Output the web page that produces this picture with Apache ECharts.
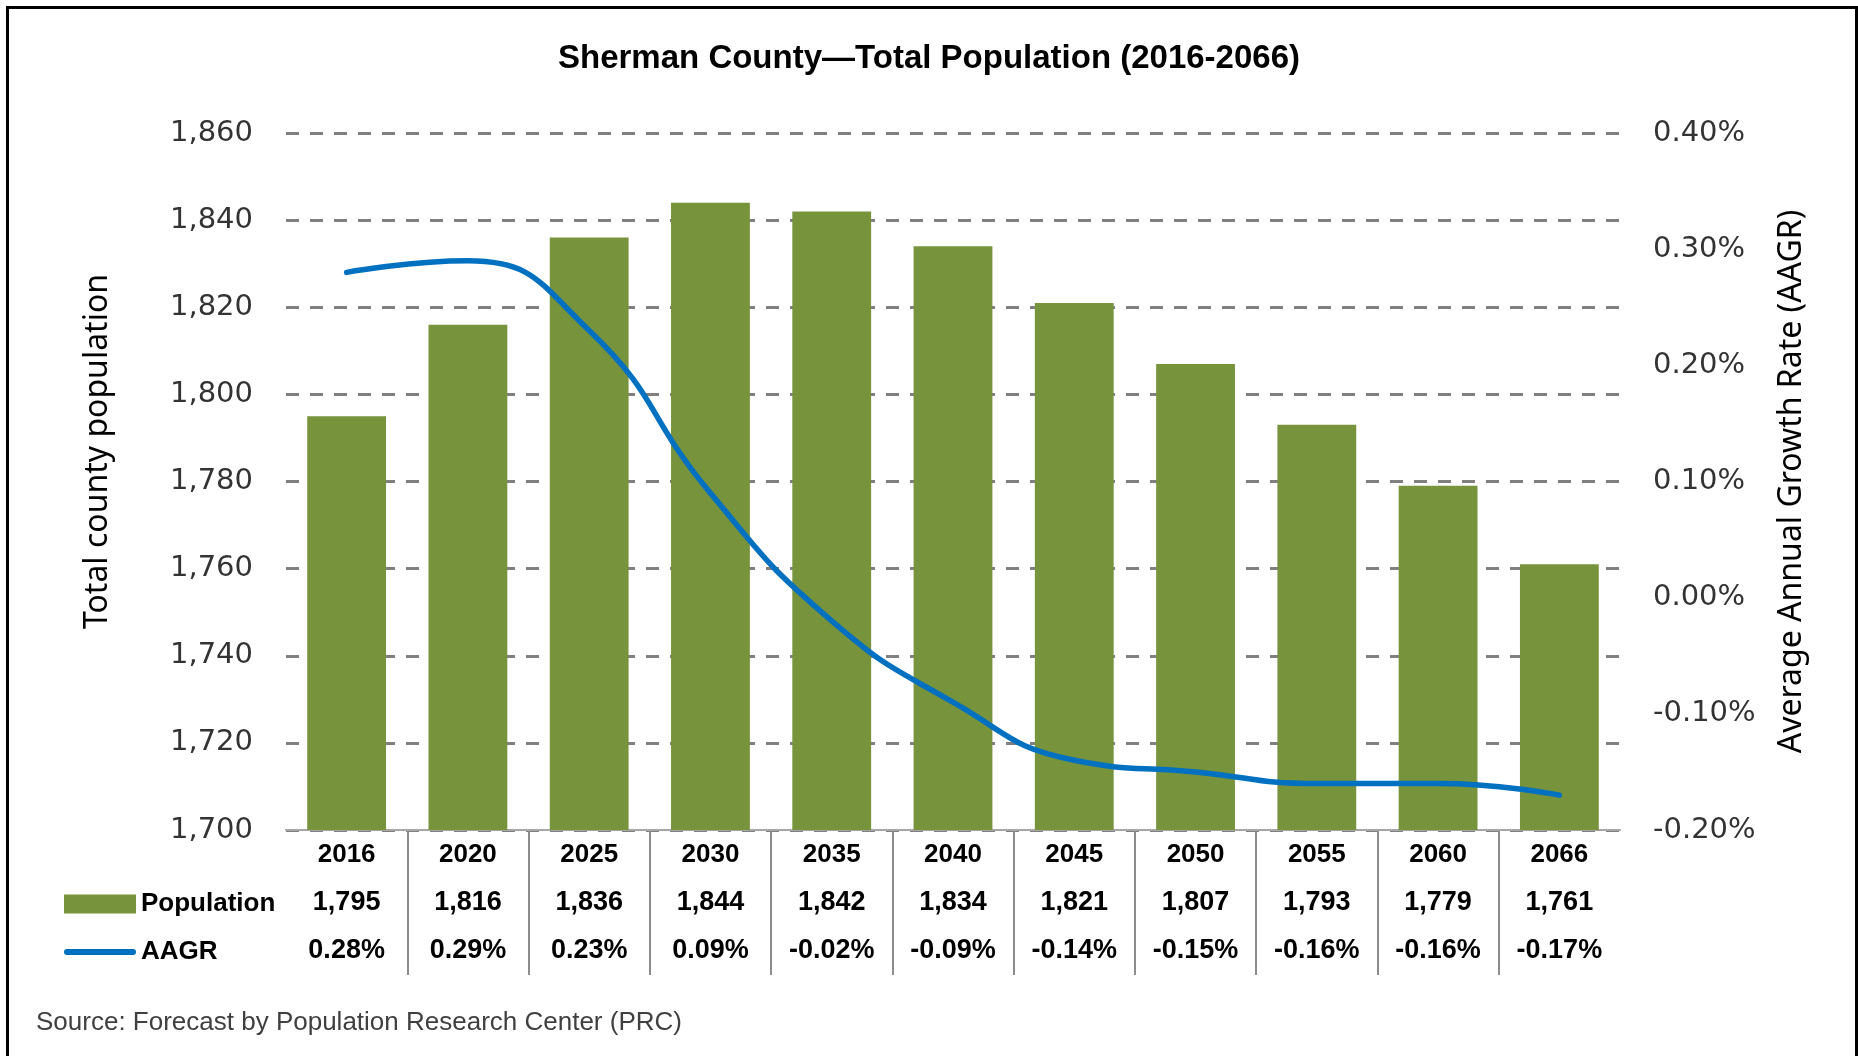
<!DOCTYPE html>
<html>
<head>
<meta charset="utf-8">
<title>Sherman County - Total Population</title>
<script src="https://cdn.jsdelivr.net/npm/echarts@6/dist/echarts.min.js"></script>
<style>
  html, body { margin: 0; padding: 0; background: #fff; }
  #chart { width: 1858px; height: 1056px; }
</style>
</head>
<body>
<div id="chart"></div>
<script>
// data
const years = ['2016', '2020', '2025', '2030', '2035', '2040', '2045', '2050', '2055', '2060', '2066']
const population = [1795, 1816, 1836, 1844, 1842, 1834, 1821, 1807, 1793, 1779, 1761]
const aagr = [0.28, 0.29, 0.23, 0.09, -0.02, -0.09, -0.14, -0.15, -0.16, -0.16, -0.17]
const popTicks = { min: 1700, max: 1860, step: 20 }
const rateTicks = { min: -0.2, max: 0.4, step: 0.1 }

const green = '#77933c'
const blue = '#0070c0'
const tableFont = 'Liberation Sans'
const axisFont = 'DejaVu Sans'

const fmtPop = v => v.toLocaleString('en-US')
const fmtRate = v => v.toFixed(2) + '%'

const chart = echarts.init(document.getElementById('chart'))

// bottom table rows are drawn as extra category axes stacked under the grid
function tableRow(offset, formatter) {
  return {
    type: 'category',
    gridIndex: 0,
    position: 'bottom',
    offset: offset,
    data: years,
    axisLine: { show: false },
    axisTick: { show: false },
    axisLabel: {
      interval: 0,
      margin: 11,
      formatter: formatter,
      fontFamily: tableFont,
      fontWeight: 'bold',
      fontSize: 27,
      color: '#000'
    }
  }
}

const option = {
  animation: false,
  title: [
    {
      text: 'Sherman County\u2014Total Population (2016-2066)',
      left: 'center',
      top: 37,
      textStyle: { fontFamily: tableFont, fontWeight: 'bold', fontSize: 33, color: '#000' }
    },
    {
      text: 'Source: Forecast by Population Research Center (PRC)',
      left: 31,
      top: 1005,
      textStyle: { fontFamily: tableFont, fontWeight: 'normal', fontSize: 26, color: '#404040' }
    }
  ],
  legend: {
    orient: 'vertical',
    left: 59,
    top: 886,
    itemWidth: 72,
    itemHeight: 19,
    itemGap: 22,
    textStyle: { fontFamily: tableFont, fontWeight: 'bold', fontSize: 26, color: '#000' },
    data: [
      { name: 'Population', icon: 'rect' },
      { name: 'AAGR', icon: 'path://M3,0 H69 A3,3 0 0 1 69,6 H3 A3,3 0 0 1 3,0 Z' }
    ]
  },
  graphic: [
    {
      type: 'rect',
      left: 5,
      top: 5,
      shape: { width: 1849, height: 1070 },
      style: { fill: 'none', stroke: '#000', lineWidth: 3 },
      silent: true
    }
  ],
  grid: [
    { left: 286, right: 238, top: 133, bottom: 226 },
    // only used for the vertical dividers of the data table
    { left: 286, right: 238, top: 830, height: 145 }
  ],
  xAxis: [
    {
      type: 'category',
      gridIndex: 0,
      data: years,
      axisLine: { onZero: false, lineStyle: { color: '#a6a6a6', width: 2 } },
      axisTick: { show: false },
      axisLabel: {
        interval: 0,
        margin: 12,
        fontFamily: tableFont,
        fontWeight: 'bold',
        fontSize: 26,
        color: '#000'
      }
    },
    tableRow(48, (v, i) => fmtPop(population[i])),
    tableRow(96, (v, i) => fmtRate(aagr[i])),
    {
      type: 'category',
      gridIndex: 1,
      data: years,
      axisLine: { show: false },
      axisTick: { show: false },
      axisLabel: { show: false },
      splitLine: {
        show: true,
        interval: 0,
        showMinLine: false,
        showMaxLine: false,
        lineStyle: { color: '#8c8c8c', width: 2 }
      }
    }
  ],
  yAxis: [
    {
      type: 'value',
      gridIndex: 0,
      min: popTicks.min,
      max: popTicks.max,
      interval: popTicks.step,
      name: 'Total county population',
      nameLocation: 'middle',
      nameGap: 172,
      nameTextStyle: { fontFamily: 'Noto Sans', fontSize: 32, color: '#000', padding: [0, 0, 0, 60] },
      axisLine: { show: false },
      axisTick: { show: false },
      axisLabel: {
        margin: 33,
        formatter: v => fmtPop(v),
        fontFamily: axisFont,
        fontSize: 29,
        color: '#333'
      },
      splitLine: {
        lineStyle: { color: '#808080', width: 3, type: [13, 11] }
      }
    },
    {
      type: 'value',
      gridIndex: 0,
      position: 'right',
      min: rateTicks.min,
      max: rateTicks.max,
      interval: rateTicks.step,
      alignTicks: false,
      name: 'Average Annual Growth Rate (AAGR)',
      nameLocation: 'middle',
      nameGap: 156,
      nameTextStyle: { fontFamily: 'Noto Sans', fontSize: 32, color: '#000' },
      axisLine: { show: false },
      axisTick: { show: false },
      axisLabel: {
        margin: 33,
        formatter: v => fmtRate(v),
        fontFamily: axisFont,
        fontSize: 29,
        color: '#333'
      },
      splitLine: { show: false }
    },
    { type: 'value', gridIndex: 1, show: false }
  ],
  series: [
    {
      name: 'Population',
      type: 'bar',
      xAxisIndex: 0,
      yAxisIndex: 0,
      barCategoryGap: '35%',
      itemStyle: { color: green },
      data: population
    },
    {
      name: 'AAGR',
      type: 'line',
      xAxisIndex: 0,
      yAxisIndex: 1,
      smooth: 0.5,
      symbol: 'none',
      lineStyle: { color: blue, width: 5.5, cap: 'round' },
      itemStyle: { color: blue },
      data: aagr
    }
  ]
}

chart.setOption(option)
</script>
</body>
</html>
